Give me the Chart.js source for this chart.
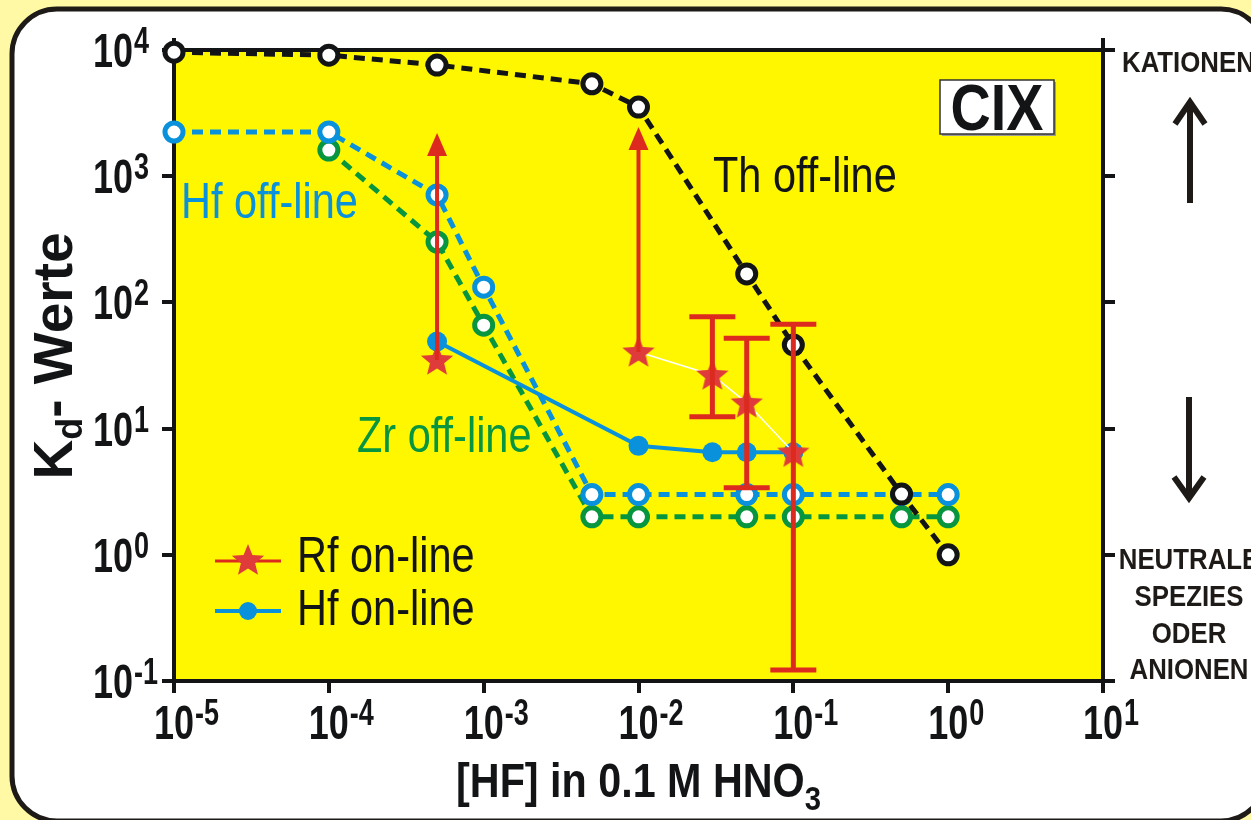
<!DOCTYPE html>
<html>
<head>
<meta charset="utf-8">
<script src="https://cdn.jsdelivr.net/npm/chart.js@4/dist/chart.umd.min.js"></script>
<style>
html, body { margin: 0; padding: 0; background: #fff9a6; }
canvas { display: block; }
</style>
</head>
<body>
<canvas id="grafica" width="1251" height="820"></canvas>
<script>
// ===============================
// DATOS
// ===============================
const xDecades = [1e-5, 1e-4, 1e-3, 1e-2, 1e-1, 1e0, 1e1];
const xEnds = [1e-5, 1e1];
const yDecades = [1e-1, 1e0, 1e1, 1e2, 1e3, 1e4];

const thX = [1e-5, 1e-4, 5e-4, 5e-3, 1e-2, 5e-2, 1e-1, 5e-1, 1];
const thKd = [9600, 9100, 7600, 5400, 3530, 168, 46, 3.03, 1.0];

const hfOffX = [1e-5, 1e-4, 5e-4, 1e-3, 5e-3, 1e-2, 5e-2, 1e-1, 5e-1, 1];
const hfOffKd = [2240, 2240, 710, 132, 3, 3, 3, 3, 3, 3];

const zrX = [1e-4, 5e-4, 1e-3, 5e-3, 1e-2, 5e-2, 1e-1, 5e-1, 1];
const zrKd = [1610, 301, 66, 2, 2, 2, 2, 2, 2];

const hfOnX = [5e-4, 1e-2, 3e-2, 5e-2, 1e-1];
const hfOnKd = [49, 7.3, 6.5, 6.5, 6.5];

const rfX = [5e-4, 1e-2, 3e-2, 5e-2, 1e-1];
const rfKd = [35, 40.5, 26.6, 16, 6.5];
const rfErrLow = [null, null, 12.4, 3.4, 0.122];
const rfErrHigh = [null, null, 77, 52, 67];
const rfArrowTo = [2200, 2450, null, null, null];

// ===============================
// COLORES Y FUENTES
// ===============================
const ink = "#121416";
const blue = "#0a91dc";
const green = "#07963f";
const red = "#dc2a1e";
const starRed = "#e03b3b";
const fam = '"Liberation Sans", Arial, sans-serif';

const pts = (xs, ys) => xs.map((x, i) => ({ x, y: ys[i] }));

// estrella de 5 puntas como pointStyle
const starImg = document.createElement("canvas");
starImg.width = 36;
starImg.height = 36;
(function () {
    const c = starImg.getContext("2d");
    c.translate(18, 19);
    c.beginPath();
    for (let i = 0; i < 10; i++) {
        const r = i % 2 === 0 ? 17 : 7.5;
        const a = -Math.PI / 2 + i * Math.PI / 5;
        c.lineTo(r * Math.cos(a), r * Math.sin(a));
    }
    c.closePath();
    c.fillStyle = starRed;
    c.fill();
})();

function ancho(ctx, s, font, sx) {
    ctx.save();
    ctx.font = font;
    const w = ctx.measureText(s).width * sx;
    ctx.restore();
    return w;
}

function texto(ctx, s, x, y, font, color, sx, align) {
    ctx.save();
    ctx.font = font;
    ctx.fillStyle = color;
    ctx.textAlign = align || "left";
    ctx.textBaseline = "alphabetic";
    ctx.translate(x, y);
    ctx.scale(sx, 1);
    ctx.fillText(s, 0, 0);
    ctx.restore();
}

// ===============================
// PLUGINS
// ===============================
const fondo = {
    id: "fondo",
    beforeDraw(chart) {
        const { ctx, chartArea: a } = chart;
        ctx.save();
        ctx.fillStyle = "#fff9a6";
        ctx.fillRect(0, 0, chart.width, chart.height);

        const x0 = 12, y0 = 9, x1 = 1266, y1 = 821, r = 45;
        ctx.beginPath();
        ctx.moveTo(x0 + r, y0);
        ctx.arcTo(x1, y0, x1, y1, r);
        ctx.arcTo(x1, y1, x0, y1, r);
        ctx.arcTo(x0, y1, x0, y0, r);
        ctx.arcTo(x0, y0, x1, y0, r);
        ctx.closePath();
        ctx.fillStyle = "#ffffff";
        ctx.fill();
        ctx.lineWidth = 5;
        ctx.strokeStyle = "#1e1a17";
        ctx.stroke();

        ctx.fillStyle = "#fff700";
        ctx.fillRect(a.left, a.top, a.right - a.left, a.bottom - a.top);
        ctx.restore();
    }
};

const barras = {
    id: "barras",
    afterDatasetsDraw(chart) {
        const { ctx, scales: { x, y } } = chart;
        ctx.save();
        ctx.strokeStyle = red;
        ctx.fillStyle = red;
        ctx.lineWidth = 5;
        rfX.forEach((xv, i) => {
            const px = x.getPixelForValue(xv);
            if (rfErrLow[i] != null) {
                const yh = y.getPixelForValue(rfErrHigh[i]);
                const yl = y.getPixelForValue(rfErrLow[i]);
                ctx.beginPath();
                ctx.moveTo(px, yh); ctx.lineTo(px, yl);
                ctx.moveTo(px - 23, yh); ctx.lineTo(px + 23, yh);
                ctx.moveTo(px - 23, yl); ctx.lineTo(px + 23, yl);
                ctx.stroke();
            }
            if (rfArrowTo[i] != null) {
                const y0 = y.getPixelForValue(rfKd[i]);
                const yt = y.getPixelForValue(rfArrowTo[i]);
                ctx.lineWidth = 4;
                ctx.beginPath();
                ctx.moveTo(px, y0); ctx.lineTo(px, yt + 18);
                ctx.stroke();
                ctx.lineWidth = 5;
                ctx.beginPath();
                ctx.moveTo(px, yt);
                ctx.lineTo(px - 10, yt + 23);
                ctx.lineTo(px + 10, yt + 23);
                ctx.closePath();
                ctx.fill();
            }
        });
        ctx.restore();
    }
};

const textos = {
    id: "textos",
    afterDraw(chart) {
        const { ctx, chartArea: a, scales: { x, y } } = chart;

        // etiquetas de los ejes (10^n)
        const fBase = "bold 48px " + fam;
        const fSup = "bold 36px " + fam;
        const sxT = 0.75;
        const w10 = ancho(ctx, "10", fBase, sxT);
        xDecades.forEach(v => {
            const px = x.getPixelForValue(v);
            const e = Math.round(Math.log10(v));
            texto(ctx, "10", px - w10 / 2, a.bottom + 58, fBase, ink, sxT);
            texto(ctx, String(e), px + w10 / 2 + 1, a.bottom + 44, fSup, ink, sxT);
        });
        yDecades.forEach(v => {
            const py = y.getPixelForValue(v);
            const e = Math.round(Math.log10(v));
            texto(ctx, "10", 93, py + 17, fBase, ink, sxT);
            texto(ctx, String(e), 93 + w10 + 1, py + 3, fSup, ink, sxT);
        });

        // titulo eje y
        ctx.save();
        ctx.translate(72, 356);
        ctx.rotate(-Math.PI / 2);
        const fT = "bold 55px " + fam;
        const fSub = "bold 36px " + fam;
        const wK = ancho(ctx, "K", fT, 1);
        const wd = ancho(ctx, "d", fSub, 1);
        const wR = ancho(ctx, "- Werte", fT, 1);
        let sx = -(wK + wd + wR) / 2;
        texto(ctx, "K", sx, 0, fT, ink, 1);
        texto(ctx, "d", sx + wK, 10, fSub, ink, 1);
        texto(ctx, "- Werte", sx + wK + wd, 0, fT, ink, 1);
        ctx.restore();

        // titulo eje x
        const fX = "bold 48px " + fam;
        const fX3 = "bold 34px " + fam;
        const sxX = 0.86;
        const wMain = ancho(ctx, "[HF] in 0.1 M HNO", fX, sxX);
        const w3 = ancho(ctx, "3", fX3, sxX);
        const xs = (a.left + a.right) / 2 - (wMain + w3) / 2;
        texto(ctx, "[HF] in 0.1 M HNO", xs, a.bottom + 116, fX, ink, sxX);
        texto(ctx, "3", xs + wMain, a.bottom + 129, fX3, ink, sxX);

        // anotaciones
        const fA = "50px " + fam;
        texto(ctx, "Hf off-line", 181, 218, fA, blue, 0.83);
        texto(ctx, "Th off-line", 713, 192, fA, ink, 0.83);
        texto(ctx, "Zr off-line", 357, 452, fA, green, 0.83);

        // leyenda
        ctx.save();
        ctx.lineWidth = 3;
        ctx.strokeStyle = red;
        ctx.beginPath(); ctx.moveTo(215, 561); ctx.lineTo(281, 561); ctx.stroke();
        ctx.drawImage(starImg, 248 - 18, 561 - 19);
        ctx.lineWidth = 4;
        ctx.strokeStyle = blue;
        ctx.beginPath(); ctx.moveTo(215, 611); ctx.lineTo(281, 611); ctx.stroke();
        ctx.fillStyle = blue;
        ctx.beginPath(); ctx.arc(248, 611, 9, 0, Math.PI * 2); ctx.fill();
        ctx.restore();
        texto(ctx, "Rf on-line", 297, 572, fA, ink, 0.83);
        texto(ctx, "Hf on-line", 297, 625, fA, ink, 0.83);

        // caja CIX
        ctx.save();
        ctx.fillStyle = "#9a9a9a";
        ctx.fillRect(942, 82, 114, 54);
        ctx.fillStyle = "#ffffff";
        ctx.fillRect(940, 80, 114, 54);
        ctx.lineWidth = 1.5;
        ctx.strokeStyle = "#333";
        ctx.strokeRect(940, 80, 114, 54);
        ctx.restore();
        texto(ctx, "CIX", 997, 130, "bold 64px " + fam, ink, 0.87, "center");

        // lado derecho
        const fR = "bold 30px " + fam;
        texto(ctx, "KATIONEN", 1122, 72, fR, "#1e1a17", 0.86);
        texto(ctx, "NEUTRALE", 1189, 569, fR, "#1e1a17", 0.86, "center");
        texto(ctx, "SPEZIES", 1189, 606, fR, "#1e1a17", 0.86, "center");
        texto(ctx, "ODER", 1189, 643, fR, "#1e1a17", 0.86, "center");
        texto(ctx, "ANIONEN", 1189, 679, fR, "#1e1a17", 0.86, "center");

        ctx.save();
        ctx.strokeStyle = "#1e1a17";
        ctx.lineWidth = 6;
        ctx.beginPath();
        ctx.moveTo(1190, 203); ctx.lineTo(1190, 103);
        ctx.moveTo(1175, 124); ctx.lineTo(1190, 102); ctx.lineTo(1205, 124);
        ctx.moveTo(1189, 397); ctx.lineTo(1189, 496);
        ctx.moveTo(1174, 477); ctx.lineTo(1189, 498); ctx.lineTo(1204, 477);
        ctx.stroke();
        ctx.restore();
    }
};

// ===============================
// ESCALAS
// ===============================
function eje(position, size, ticksList) {
    const horizontal = position === "top" || position === "bottom";
    return {
        type: "logarithmic",
        position,
        min: horizontal ? 1e-5 : 1e-1,
        max: horizontal ? 10 : 1e4,
        afterBuildTicks: axis => { axis.ticks = ticksList.map(v => ({ value: v })); },
        afterFit: s => { if (horizontal) s.height = size; else s.width = size; },
        ticks: { display: false },
        grid: {
            drawOnChartArea: false,
            drawTicks: true,
            tickLength: 12,
            tickWidth: 4,
            tickColor: ink,
            color: ink,
            lineWidth: 4
        },
        border: { display: true, color: ink, width: 4 }
    };
}

// ===============================
// GRAFICA
// ===============================
const openCircle = color => ({
    borderColor: color,
    pointBorderColor: color,
    pointBackgroundColor: "#ffffff",
    pointRadius: 9,
    pointBorderWidth: 5,
    borderWidth: 5,
    borderDash: [11, 7],
    showLine: true,
    clip: false
});

new Chart(document.getElementById("grafica"), {
    type: "scatter",
    data: {
        datasets: [
            {
                label: "Rf on-line",
                data: pts(rfX, rfKd),
                showLine: true,
                borderColor: "#ffffff",
                borderWidth: 1.5,
                segment: { borderColor: c => c.p0DataIndex === 0 ? "rgba(0,0,0,0)" : "#ffffff" },
                pointStyle: starImg,
                pointRadius: 17,
                clip: false,
                order: 0
            },
            {
                label: "Hf on-line",
                data: pts(hfOnX, hfOnKd),
                showLine: true,
                borderColor: blue,
                borderWidth: 4,
                pointBackgroundColor: blue,
                pointBorderColor: blue,
                pointRadius: 10,
                pointBorderWidth: 0,
                clip: false,
                order: 1
            },
            Object.assign({ label: "Th off-line", data: pts(thX, thKd), order: 2 }, openCircle(ink)),
            Object.assign({ label: "Hf off-line", data: pts(hfOffX, hfOffKd), order: 3 }, openCircle(blue)),
            Object.assign({ label: "Zr off-line", data: pts(zrX, zrKd), order: 4 }, openCircle(green))
        ]
    },
    options: {
        responsive: false,
        animation: false,
        devicePixelRatio: 1,
        layout: { padding: 0 },
        plugins: { legend: { display: false }, tooltip: { enabled: false } },
        scales: {
            x: eje("bottom", 139, xDecades),
            x2: eje("top", 50, xEnds),
            y: eje("left", 174, yDecades),
            y2: eje("right", 148, yDecades)
        }
    },
    plugins: [fondo, barras, textos]
});
</script>
</body>
</html>
